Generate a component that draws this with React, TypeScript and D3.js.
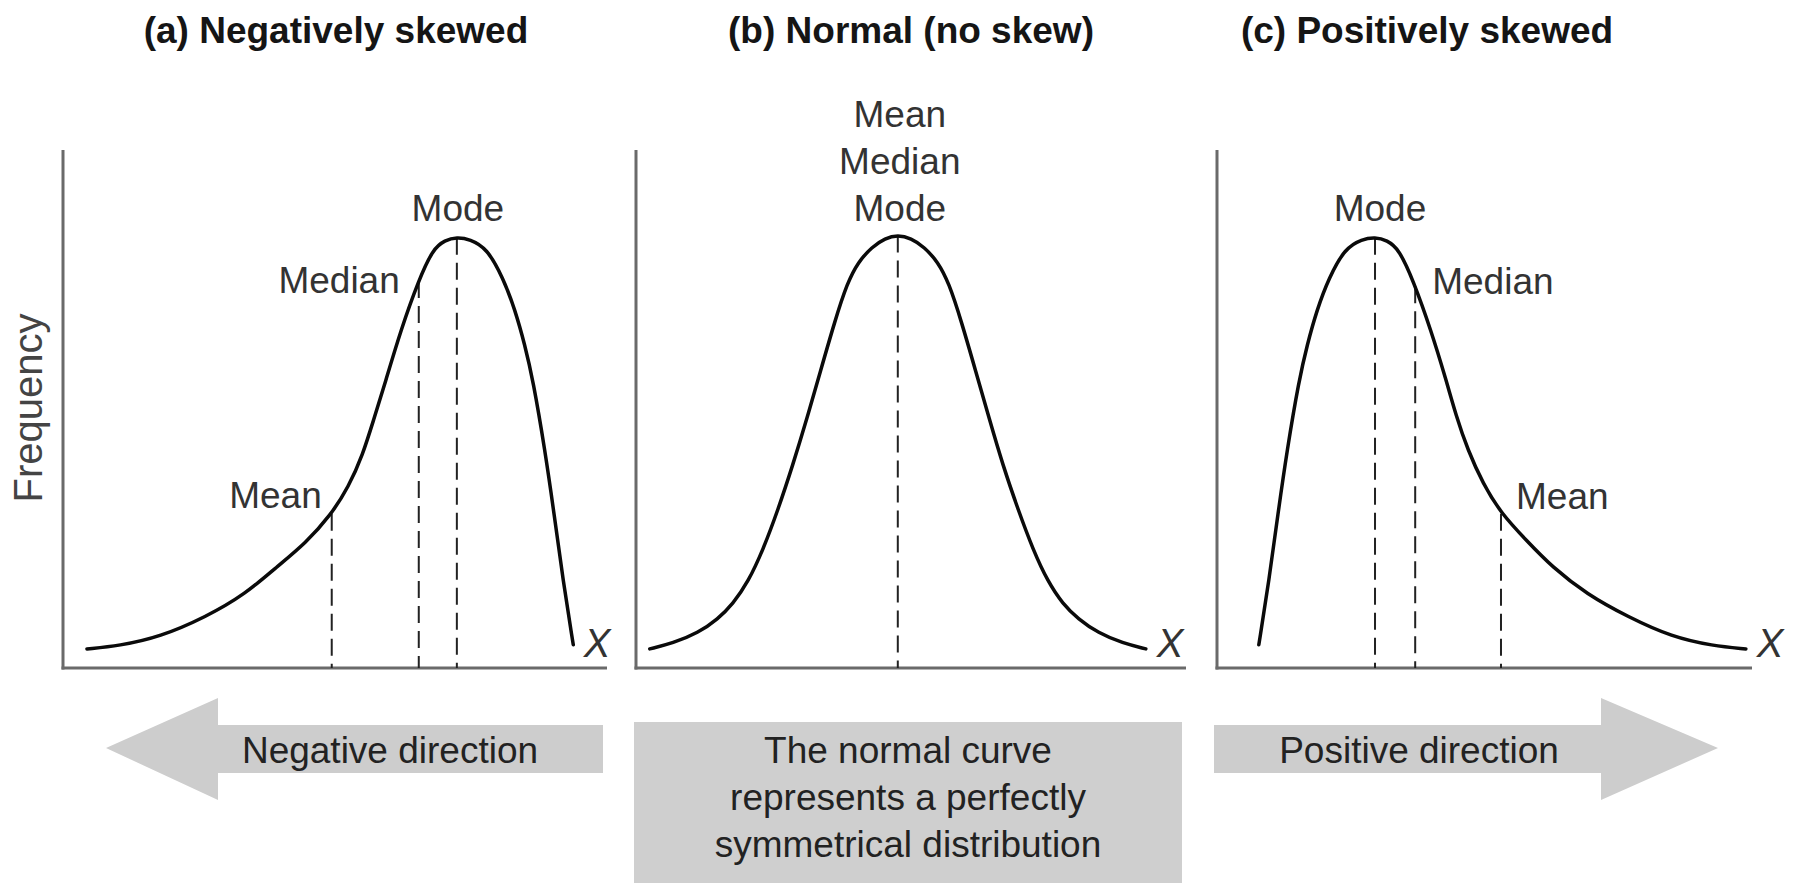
import React from "react";
import * as d3 from "d3";

// ---- Data (x: position along the X axis, 0–100; y: relative frequency, 0–100) ----
const panelTitles = ["(a) Negatively skewed", "(b) Normal (no skew)", "(c) Positively skewed"];

const negSkewCurve: [number, number][] = [
  [4.4, 3.7], [10.3, 4.3], [17.8, 6.0], [26.3, 9.9], [33.5, 14.3], [39.3, 19.6],
  [44.6, 24.2], [49.2, 29.6], [52.5, 35.1], [55.1, 41.3], [57.1, 48.1], [59.2, 55.2],
  [62.1, 65.5], [65.4, 75.2], [68.0, 81.2], [70.2, 82.9], [72.4, 83.5], [74.8, 83.1],
  [77.9, 81.4], [80.9, 75.6], [83.1, 69.4], [84.9, 62.6], [86.4, 55.8], [88.6, 42.2],
  [90.3, 29.7], [91.9, 17.1], [93.8, 4.5],
];

const normalCurve: [number, number][] = [
  [2.5, 3.7], [6.7, 4.8], [11.3, 6.8], [14.9, 9.5], [17.6, 12.4], [20.4, 16.7],
  [23.1, 22.9], [25.8, 30.6], [28.5, 39.3], [31.1, 48.4], [33.5, 57.4], [36.2, 67.4],
  [38.4, 74.6], [40.4, 78.7], [42.9, 81.6], [45.3, 83.3], [47.6, 83.9], [50.0, 83.3],
  [52.4, 81.6], [54.9, 78.7], [56.9, 74.6], [59.1, 67.4], [61.8, 57.4], [64.2, 48.4],
  [66.7, 39.3], [69.5, 30.6], [72.2, 22.9], [74.9, 16.7], [77.6, 12.4], [80.4, 9.5],
  [84.0, 6.8], [88.5, 4.8], [92.7, 3.7],
];

const posSkewCurve: [number, number][] = [
  [7.7, 4.5], [9.6, 17.1], [11.2, 29.7], [12.9, 42.2], [15.1, 55.8], [16.6, 62.6],
  [18.4, 69.4], [20.6, 75.6], [23.6, 81.4], [26.7, 83.1], [29.1, 83.5], [31.3, 82.9],
  [33.5, 81.2], [36.1, 75.2], [39.4, 65.5], [42.2, 55.8], [44.0, 49.0], [46.2, 42.2],
  [49.0, 35.7], [52.3, 30.0], [57.1, 24.6], [61.7, 19.6], [68.1, 14.3], [75.7, 9.9],
  [83.8, 6.0], [91.3, 4.3], [97.4, 3.7],
];

// Central-tendency markers: [name, x, height of curve at x]
const negSkewMarkers: [string, number, number][] = [
  ["Mean", 49.4, 29.9],
  ["Median", 65.4, 75.0],
  ["Mode", 72.4, 83.4],
];
const normalMarkers: [string, number, number][] = [["Mean\nMedian\nMode", 47.6, 83.8]];
const posSkewMarkers: [string, number, number][] = [
  ["Mode", 29.1, 83.4],
  ["Median", 36.5, 74.0],
  ["Mean", 52.3, 29.9],
];

const yAxisLabel = "Frequency";
const xAxisLabel = "X";
const directionLabels = ["Negative direction", "Positive direction"];
const noteLines = ["The normal curve", "represents a perfectly", "symmetrical distribution"];

// ---- Layout ----
const W = 1794;
const H = 883;
const FONT = "'Liberation Sans', Arial, Helvetica, sans-serif";
const AXIS_BOTTOM = 668;
const AXIS_TOP = 150;

const panels = [
  { x0: 63, x1: 607, titleX: 336, xLabelX: 597, curve: negSkewCurve, markers: negSkewMarkers },
  { x0: 636, x1: 1186, titleX: 911, xLabelX: 1170, curve: normalCurve, markers: normalMarkers },
  { x0: 1217, x1: 1752, titleX: 1427, xLabelX: 1770, curve: posSkewCurve, markers: posSkewMarkers },
];

// label placement relative to the marker's top point: anchor, dx, dy
const labelPlacement: Record<string, [string, number, number][]> = {
  "0": [["end", -10, -6], ["end", -19, 12], ["middle", 1, -17]],
  "1": [["middle", 2, -15]],
  "2": [["middle", 5, -17], ["start", 17, 8], ["start", 15, -5]],
};

const yScale = d3.scaleLinear().domain([0, 100]).range([AXIS_BOTTOM, 152]);

export default function App() {
  return (
    <svg
      width={W}
      height={H}
      viewBox={`0 0 ${W} ${H}`}
      style={{ position: "absolute", left: 0, top: 0, background: "#fff" }}
      fontFamily={FONT}
    >
      <rect x={0} y={0} width={W} height={H} fill="#fff" />

      {panels.map((p, pi) => {
        const xScale = d3.scaleLinear().domain([0, 100]).range([p.x0, p.x0 + (pi === 2 ? 543 : p.x1 - p.x0)]);
        const line = d3
          .line<[number, number]>()
          .x((d) => xScale(d[0]))
          .y((d) => yScale(d[1]))
          .curve(d3.curveBasis);
        return (
          <g key={pi}>
            {/* panel title */}
            <text
              x={p.titleX}
              y={43}
              textAnchor="middle"
              fontSize={37}
              fontWeight="bold"
              fill="#151515"
            >
              {panelTitles[pi]}
            </text>

            {/* axes */}
            <line x1={p.x0} x2={p.x0} y1={AXIS_TOP} y2={AXIS_BOTTOM + 1.5} stroke="#6a6a6a" strokeWidth={3} />
            <line x1={p.x0 - 1.5} x2={p.x1} y1={AXIS_BOTTOM} y2={AXIS_BOTTOM} stroke="#6a6a6a" strokeWidth={3} />
            <text
              x={p.xLabelX}
              y={657}
              textAnchor="middle"
              fontSize={40}
              fontStyle="italic"
              fill="#333"
            >
              {xAxisLabel}
            </text>

            {/* dashed markers */}
            {p.markers.map((m, mi) => (
              <line
                key={"d" + mi}
                x1={xScale(m[1])}
                x2={xScale(m[1])}
                y1={yScale(m[2])}
                y2={AXIS_BOTTOM}
                stroke="#222"
                strokeWidth={2}
                strokeDasharray="17 8"
              />
            ))}

            {/* distribution curve */}
            <path d={line(p.curve) || ""} fill="none" stroke="#0a0a0a" strokeWidth={3.5} strokeLinecap="round" />

            {/* marker labels */}
            {p.markers.map((m, mi) => {
              const [anchor, dx, dy] = labelPlacement[String(pi)][mi];
              const lines = m[0].split("\n");
              const baseX = xScale(m[1]) + dx;
              const baseY = yScale(m[2]) + dy;
              return (
                <text key={"l" + mi} textAnchor={anchor} fontSize={37} fill="#333">
                  {lines.map((t, li) => (
                    <tspan key={li} x={baseX} y={baseY - (lines.length - 1 - li) * 47}>
                      {t}
                    </tspan>
                  ))}
                </text>
              );
            })}
          </g>
        );
      })}

      {/* y-axis title */}
      <text
        transform="translate(42,408) rotate(-90)"
        textAnchor="middle"
        fontSize={40}
        fill="#444"
      >
        {yAxisLabel}
      </text>

      {/* direction arrows */}
      <polygon
        points="106,748 218,698 218,725 603,725 603,773 218,773 218,800"
        fill="#cdcdcd"
      />
      <text x={390} y={763} textAnchor="middle" fontSize={37} fill="#222">
        {directionLabels[0]}
      </text>

      <polygon
        points="1214,725 1601,725 1601,698 1718,748 1601,800 1601,773 1214,773"
        fill="#cdcdcd"
      />
      <text x={1419} y={763} textAnchor="middle" fontSize={37} fill="#222">
        {directionLabels[1]}
      </text>

      {/* note box */}
      <rect x={634} y={722} width={548} height={H - 722} fill="#cfcfcf" />
      <text textAnchor="middle" fontSize={37} fill="#222">
        {noteLines.map((t, i) => (
          <tspan key={i} x={908} y={763 + i * 47}>
            {t}
          </tspan>
        ))}
      </text>
    </svg>
  );
}
